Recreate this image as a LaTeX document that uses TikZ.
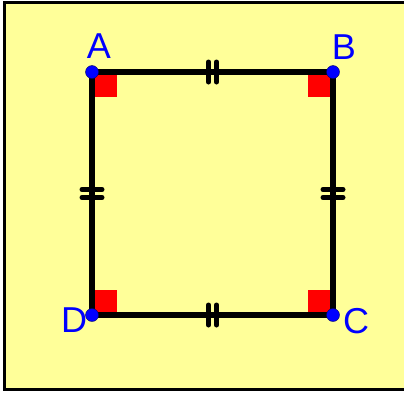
\documentclass[tikz,border=0pt]{standalone}
\usepackage{fontspec}
\setmainfont{Liberation Sans}
\usetikzlibrary{calc}

\definecolor{paper}{RGB}{255,255,153}
\definecolor{ptblue}{RGB}{0,0,255}
\definecolor{rightred}{RGB}{255,0,0}

\begin{document}
\begin{tikzpicture}[
  x=1pt, y=-1pt,
  font = \fontsize{36}{36}\selectfont,
  side/.style    = {line width=5.5pt, draw=black, line cap=round},
  tickmark/.style= {line width=5pt, draw=black, line cap=round},
  anglebox/.style= {fill=rightred},
  vertex/.style  = {circle, fill=ptblue, draw=black!60!ptblue, line width=0.4pt,
                    inner sep=0pt, minimum size=13pt},
  vlabel/.style  = {text=ptblue, inner sep=0pt},
]

\useasboundingbox (0,0) rectangle (404,392);
\begin{scope}
  \clip (0,0) rectangle (404,392);
  \draw[fill=paper, line width=3pt] (4,2) rectangle (410,389);
\end{scope}

% Vertices
\coordinate (A) at (92,72);
\coordinate (B) at (333,72);
\coordinate (C) at (333,315);
\coordinate (D) at (92,315);

% Right angles
\fill[anglebox] (A) rectangle ++(25,25);
\fill[anglebox] (B) rectangle ++(-25,25);
\fill[anglebox] (C) rectangle ++(-25,-25);
\fill[anglebox] (D) rectangle ++(25,-25);

% Sides
\draw[side] (A) -- (B) -- (C) -- (D) -- cycle;

% Equal-length marks
\foreach \p/\q in {A/B, D/C} {
  \foreach \dx in {-4,4}
    \draw[tickmark] ($(\p)!0.5!(\q)+(\dx,-10)$) -- ++(0,20);
}
\foreach \p/\q in {A/D, B/C} {
  \foreach \dy in {-4,4}
    \draw[tickmark] ($(\p)!0.5!(\q)+(-10,\dy)$) -- ++(20,0);
}

% Points and labels
\foreach \v in {A,B,C,D}
  \node[vertex] (dot\v) at (\v) {};
\node[vlabel] (labA) at (99,46)  {A};
\node[vlabel] (labB) at (344,47) {B};
\node[vlabel] (labC) at (356,321) {C};
\node[vlabel] (labD) at (74,320) {D};

\end{tikzpicture}
\end{document}
